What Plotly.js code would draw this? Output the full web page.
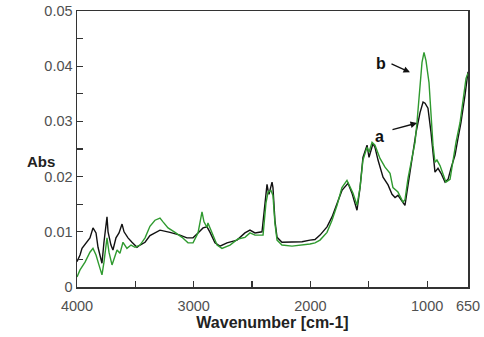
<!DOCTYPE html>
<html>
<head>
<meta charset="utf-8">
<script src="https://cdn.plot.ly/plotly-3.0.1.min.js"></script>
<style>html,body{margin:0;padding:0;background:#fff;}#chart{width:484px;height:337px;}</style>
</head>
<body>
<div id="chart"></div>
<script>
// Sample a (black)
var waveA = [4000,3974,3957,3914,3889,3863,3837,3820,3794,3786,3769,3743,3734,3709,3692,3666,3640,3614,3597,3563,3529,3486,3460,3417,3375,3289,3203,3118,3058,3006,2963,2920,2886,2860,2818,2775,2715,2629,2561,2518,2475,2415,2389,2372,2363,2355,2329,2321,2304,2286,2244,2158,2072,2004,1961,1918,1858,1815,1772,1730,1678,1644,1601,1575,1550,1515,1498,1464,1447,1421,1378,1335,1301,1275,1250,1190,1173,1147,1121,1095,1061,1035,1018,993,967,950,933,907,881,847,821,796,761,735,710,676,658,650];
var absA  = [0.0046,0.0058,0.0070,0.0081,0.0089,0.0107,0.0098,0.0072,0.0052,0.0043,0.0081,0.0127,0.0100,0.0076,0.0067,0.0089,0.0098,0.0114,0.0100,0.0089,0.0081,0.0072,0.0076,0.0081,0.0093,0.0103,0.0099,0.0094,0.0089,0.0089,0.0098,0.0107,0.0109,0.0099,0.0080,0.0074,0.0080,0.0085,0.0098,0.0103,0.0098,0.0100,0.0152,0.0186,0.0175,0.0168,0.0190,0.0180,0.0120,0.0090,0.0081,0.0081,0.0082,0.0085,0.0086,0.0094,0.0109,0.0127,0.0152,0.0175,0.0188,0.0170,0.0139,0.0180,0.0235,0.0257,0.0235,0.0260,0.0253,0.0230,0.0199,0.0185,0.0168,0.0162,0.0166,0.0148,0.0172,0.0208,0.0244,0.0280,0.0316,0.0335,0.0333,0.0324,0.0280,0.0239,0.0208,0.0215,0.0206,0.0190,0.0195,0.0215,0.0239,0.0270,0.0298,0.0347,0.0383,0.0390];
// Sample b (green)
var waveB = [4000,3974,3931,3889,3863,3837,3812,3786,3769,3743,3726,3700,3692,3657,3632,3606,3572,3537,3503,3460,3417,3375,3332,3289,3263,3220,3160,3100,3049,3006,2963,2938,2929,2912,2886,2878,2843,2800,2758,2689,2621,2561,2518,2475,2406,2381,2363,2338,2321,2304,2286,2244,2158,2072,2004,1961,1918,1858,1815,1772,1730,1687,1661,1635,1601,1575,1550,1515,1498,1472,1447,1404,1361,1318,1293,1250,1207,1190,1164,1138,1104,1087,1061,1044,1027,1010,984,967,950,933,916,890,864,839,804,778,753,718,693,667,650];
var absB  = [0.0018,0.0031,0.0045,0.0063,0.0070,0.0058,0.0040,0.0022,0.0045,0.0089,0.0063,0.0040,0.0045,0.0067,0.0061,0.0081,0.0070,0.0076,0.0072,0.0076,0.0089,0.0110,0.0121,0.0125,0.0118,0.0107,0.0099,0.0090,0.0080,0.0080,0.0098,0.0130,0.0136,0.0118,0.0108,0.0116,0.0098,0.0076,0.0070,0.0076,0.0087,0.0090,0.0098,0.0094,0.0094,0.0152,0.0172,0.0175,0.0166,0.0115,0.0085,0.0076,0.0074,0.0076,0.0078,0.0080,0.0085,0.0099,0.0121,0.0148,0.0180,0.0193,0.0180,0.0170,0.0148,0.0180,0.0230,0.0253,0.0244,0.0262,0.0257,0.0233,0.0217,0.0206,0.0180,0.0172,0.0154,0.0158,0.0197,0.0226,0.0262,0.0298,0.0365,0.0407,0.0425,0.0410,0.0370,0.0316,0.0257,0.0226,0.0230,0.0220,0.0203,0.0190,0.0195,0.0233,0.0262,0.0298,0.0342,0.0378,0.0387];

var xTickVals = [4000,3500,3000,2500,2000,1500,1000,650];
var xTickText = ['4000','','3000','','2000','','1000','650'];
var yTickVals = [0,0.005,0.01,0.015,0.02,0.025,0.03,0.035,0.04,0.045,0.05];
var yTickText = ['0','','0.01','','0.02','','0.03','','0.04','','0.05'];

var traces = [
  {x: waveA, y: absA, type: 'scatter', mode: 'lines', name: 'a', line: {color: '#111111', width: 1.4}},
  {x: waveB, y: absB, type: 'scatter', mode: 'lines', name: 'b', line: {color: '#2f9a2f', width: 1.4}}
];

var tickFont = {family: 'Liberation Sans, Arial, sans-serif', size: 14.5, color: '#505050'};

var layout = {
  width: 484, height: 337,
  margin: {l: 77, r: 16, t: 11, b: 50},
  paper_bgcolor: '#ffffff', plot_bgcolor: '#ffffff',
  showlegend: false,
  xaxis: {
    range: [4000, 650], autorange: false,
    tickmode: 'array', tickvals: xTickVals, ticktext: xTickText,
    ticks: 'inside', ticklen: 6, tickwidth: 1.3, tickcolor: '#333',
    showline: true, linecolor: '#333', linewidth: 1.5, mirror: true,
    showgrid: false, zeroline: false,
    tickfont: tickFont, ticklabelstandoff: 5,
    title: {text: '<b>Wavenumber [cm-1]</b>', font: {family: 'Liberation Sans, Arial, sans-serif', size: 16, color: '#222'}, standoff: 3}
  },
  yaxis: {
    range: [0, 0.05], autorange: false,
    tickmode: 'array', tickvals: yTickVals, ticktext: yTickText,
    ticks: 'inside', ticklen: 6, tickwidth: 1.3, tickcolor: '#333',
    showline: true, linecolor: '#333', linewidth: 1.5, mirror: true,
    showgrid: false, zeroline: false,
    tickfont: tickFont
  },
  annotations: [
    {xref: 'paper', yref: 'paper', x: -0.133, y: 0.455, text: '<b>Abs</b>', showarrow: false,
     font: {family: 'Liberation Sans, Arial, sans-serif', size: 15, color: '#222'}},
    {xref: 'x', yref: 'y', x: 1147, y: 0.0389, ax: -20, ay: -9, text: '', showarrow: true,
     arrowhead: 2, arrowsize: 1, arrowwidth: 1.3, arrowcolor: '#111'},
    {xref: 'x', yref: 'y', x: 1087, y: 0.0297, ax: -26, ay: 7, text: '', showarrow: true,
     arrowhead: 2, arrowsize: 1, arrowwidth: 1.3, arrowcolor: '#111'},
    {xref: 'x', yref: 'y', x: 1393, y: 0.0405, text: '<b>b</b>', showarrow: false,
     font: {family: 'Liberation Sans, Arial, sans-serif', size: 16, color: '#111'}},
    {xref: 'x', yref: 'y', x: 1405, y: 0.0272, text: '<b>a</b>', showarrow: false,
     font: {family: 'Liberation Sans, Arial, sans-serif', size: 16, color: '#111'}}
  ]
};

Plotly.newPlot('chart', traces, layout, {staticPlot: true, displayModeBar: false});
</script>
</body>
</html>
